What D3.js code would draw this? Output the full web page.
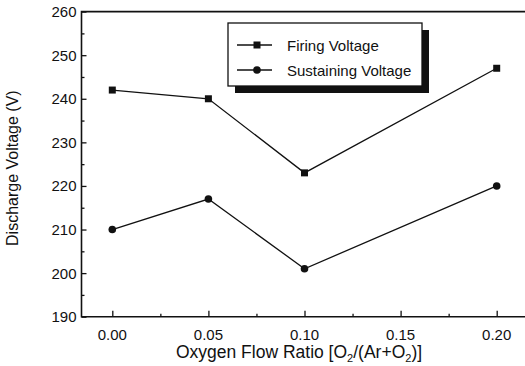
<!DOCTYPE html>
<html>
<head>
<meta charset="utf-8">
<script src="https://cdn.jsdelivr.net/npm/d3@7"></script>
<style>
  body { margin: 0; background: #fff; }
  text { font-family: "Liberation Sans", Arial, sans-serif; fill: #111; }
</style>
</head>
<body>
<svg id="chart"></svg>
<script>
  const ratios = [0.00, 0.05, 0.10, 0.20];
  const firing = [242, 240, 223, 247];
  const sustaining = [210, 217, 201, 220];
  const xTicks = [0.00, 0.05, 0.10, 0.15, 0.20];
  const yTicks = [190, 200, 210, 220, 230, 240, 250, 260];
  const legendNames = ["Firing Voltage", "Sustaining Voltage"];

  const width = 525, height = 366,
        plotLeft = 81.5, plotRight = 525, plotTop = 11.6, plotBottom = 316.7;

  let svg = d3.select("#chart")
              .attr("width", width)
              .attr("height", height);

  let x = d3.scaleLinear()
            .domain([0, 0.2])
            .range([112.3, 496.7]);

  let y = d3.scaleLinear()
            .domain([190, 260])
            .range([plotBottom, plotTop]);

  // minor ticks every half step
  let xMinor = d3.range(0.025, 0.2, 0.05);
  let yMinor = d3.range(195, 260, 10);

  // y-Axis (ticks point inward)
  svg.append("g")
     .attr("transform", "translate(" + plotLeft + ",0)")
     .call(d3.axisRight(y).tickValues(yMinor).tickSize(3).tickFormat(""))
     .call(g => g.select(".domain").remove());

  svg.append("g")
     .attr("transform", "translate(" + plotLeft + ",0)")
     .call(d3.axisRight(y).tickValues(yTicks).tickSize(5).tickFormat(""))
     .call(g => g.select(".domain").remove());

  svg.selectAll(".ylab")
     .data(yTicks)
     .enter()
     .append("text")
     .attr("class", "ylab")
     .attr("x", plotLeft - 5)
     .attr("y", d => y(d) + 5.5)
     .attr("text-anchor", "end")
     .attr("font-size", 15)
     .text(d => d);

  // x-Axis (ticks point up)
  svg.append("g")
     .attr("transform", "translate(0," + plotBottom + ")")
     .call(d3.axisTop(x).tickValues(xMinor).tickSize(3).tickFormat(""))
     .call(g => g.select(".domain").remove());

  svg.append("g")
     .attr("transform", "translate(0," + plotBottom + ")")
     .call(d3.axisTop(x).tickValues(xTicks).tickSize(6).tickFormat(""))
     .call(g => g.select(".domain").remove());

  svg.selectAll(".xlab")
     .data(xTicks)
     .enter()
     .append("text")
     .attr("class", "xlab")
     .attr("x", d => x(d))
     .attr("y", plotBottom + 23)
     .attr("text-anchor", "middle")
     .attr("font-size", 15)
     .text(d3.format(".2f"));

  svg.selectAll(".tick line").attr("stroke", "#111").attr("stroke-width", 1.3);

  // Frame: left, top, bottom (open on the right)
  svg.append("path")
     .attr("d", "M" + plotRight + "," + plotTop + "H" + plotLeft + "V" + plotBottom + "H" + plotRight)
     .attr("fill", "none")
     .attr("stroke", "#111")
     .attr("stroke-width", 1.6);

  // Axis titles
  svg.append("text")
     .attr("transform", "translate(18," + ((plotTop + plotBottom) / 2 + 4) + ") rotate(-90)")
     .attr("text-anchor", "middle")
     .attr("font-size", 16)
     .text("Discharge Voltage (V)");

  let xTitle = svg.append("text")
     .attr("x", 299)
     .attr("y", 358)
     .attr("text-anchor", "middle")
     .attr("font-size", 17.5);
  xTitle.append("tspan").text("Oxygen Flow Ratio [O");
  xTitle.append("tspan").attr("font-size", 11).attr("dy", 4).text("2");
  xTitle.append("tspan").attr("dy", -4).text("/(Ar+O");
  xTitle.append("tspan").attr("font-size", 11).attr("dy", 4).text("2");
  xTitle.append("tspan").attr("dy", -4).text(")]");

  // Data lines
  let line = d3.line()
               .x((d, i) => x(ratios[i]))
               .y(d => y(d));

  [firing, sustaining].forEach(s => {
    svg.append("path")
       .datum(s)
       .attr("d", line)
       .attr("fill", "none")
       .attr("stroke", "#111")
       .attr("stroke-width", 1.3);
  });

  svg.selectAll(".sq")
     .data(firing)
     .enter()
     .append("rect")
     .attr("x", (d, i) => x(ratios[i]) - 3.5)
     .attr("y", d => y(d) - 3.5)
     .attr("width", 7)
     .attr("height", 7)
     .attr("fill", "#111");

  svg.selectAll(".dot")
     .data(sustaining)
     .enter()
     .append("circle")
     .attr("cx", (d, i) => x(ratios[i]))
     .attr("cy", d => y(d))
     .attr("r", 3.8)
     .attr("fill", "#111");

  // Legend with drop shadow
  let legend = svg.append("g").attr("transform", "translate(228,23)");
  legend.append("rect")
        .attr("x", 7).attr("y", 7)
        .attr("width", 194).attr("height", 63)
        .attr("fill", "#111");
  legend.append("rect")
        .attr("width", 194).attr("height", 63)
        .attr("fill", "#fff")
        .attr("stroke", "#111")
        .attr("stroke-width", 1.3);

  legendNames.forEach((name, i) => {
    let row = legend.append("g").attr("transform", "translate(0," + (22 + i * 25) + ")");
    row.append("line")
       .attr("x1", 9).attr("x2", 44)
       .attr("stroke", "#111").attr("stroke-width", 1.3);
    if (i === 0) {
      row.append("rect").attr("x", 25.5).attr("y", -3.5).attr("width", 7).attr("height", 7).attr("fill", "#111");
    } else {
      row.append("circle").attr("cx", 29).attr("r", 3.8).attr("fill", "#111");
    }
    row.append("text")
       .attr("x", 59)
       .attr("y", 5.5)
       .attr("font-size", 15)
       .text(name);
  });
</script>
</body>
</html>
